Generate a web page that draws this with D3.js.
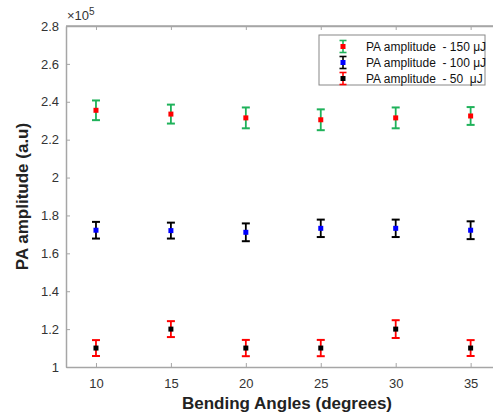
<!DOCTYPE html>
<html>
<head>
<meta charset="utf-8">
<script src="https://cdnjs.cloudflare.com/ajax/libs/d3/7.8.5/d3.min.js"></script>
<style>
  body { margin: 0; background: #fff; }
  svg { font-family: "Liberation Sans", Arial, sans-serif; display: block; }
</style>
</head>
<body>
<script>
// bending angles (degrees)
var angles = [10, 15, 20, 25, 30, 35];
// PA amplitude in units of 1e5, with error half-widths
var amp150 = [2.355, 2.335, 2.315, 2.305, 2.315, 2.325];
var err150 = [0.052, 0.050, 0.055, 0.055, 0.055, 0.047];
var amp100 = [1.722, 1.720, 1.711, 1.732, 1.732, 1.722];
var err100 = [0.044, 0.042, 0.047, 0.046, 0.046, 0.047];
var amp50 = [1.100, 1.200, 1.100, 1.100, 1.200, 1.100];
var err50 = [0.042, 0.042, 0.043, 0.043, 0.047, 0.042];
var yTicks = [1, 1.2, 1.4, 1.6, 1.8, 2, 2.2, 2.4, 2.6, 2.8];
var legendLabels = ["PA amplitude  - 150 \u03bcJ", "PA amplitude  - 100 \u03bcJ", "PA amplitude  - 50  \u03bcJ"];

var W = 493, H = 414;
var margin = {top: 26, right: 0, bottom: 47, left: 66}
  , width = 434.6
  , height = H - margin.top - margin.bottom;

var xScale = d3.scaleLinear().domain([8, 37]).range([0, width]);
var yScale = d3.scaleLinear().domain([1, 2.8]).range([height, 0]);

var series = [
  {amp: amp150, err: err150, bar: "#1fb25a", marker: "#ff0000"},
  {amp: amp100, err: err100, bar: "#000000", marker: "#0000ff"},
  {amp: amp50, err: err50, bar: "#ff0000", marker: "#000000"}
];

var svg = d3.select("body").append("svg")
    .attr("width", W)
    .attr("height", H);

var g = svg.append("g")
    .attr("transform", "translate(" + margin.left + "," + margin.top + ")");

var axisColor = "#a6a6a6";

// box lines
g.append("line").attr("x1", 0).attr("x2", width).attr("y1", 0).attr("y2", 0)
  .attr("stroke", axisColor).attr("stroke-width", 1.5);
g.append("line").attr("x1", width).attr("x2", width).attr("y1", 0).attr("y2", height)
  .attr("stroke", axisColor).attr("stroke-width", 1.5);

// axes with inward ticks
var xAxis = g.append("g")
    .attr("transform", "translate(0," + height + ")")
    .call(d3.axisBottom(xScale).tickValues(angles).tickSizeInner(-4).tickSizeOuter(0).tickPadding(12));
var xTop = g.append("g")
    .call(d3.axisTop(xScale).tickValues(angles).tickSizeInner(-4).tickSizeOuter(0).tickFormat(""));
var yAxis = g.append("g")
    .call(d3.axisLeft(yScale).tickValues(yTicks).tickSizeInner(-4).tickSizeOuter(0).tickPadding(7)
      .tickFormat(function(d){ return d3.format("~g")(d); }));

[xAxis, xTop, yAxis].forEach(function(a){
  a.select(".domain").attr("stroke", axisColor).attr("stroke-width", 1.5);
  a.selectAll(".tick line").attr("stroke", axisColor);
  a.selectAll("text").attr("fill", "#333").style("font-size", "13px")
    .style("font-family", "Liberation Sans, Arial, sans-serif");
});

// x10^5 multiplier
var mult = g.append("text").attr("x", 1).attr("y", -6)
  .attr("fill", "#333").style("font-size", "13px");
mult.append("tspan").text("\u00d710");
mult.append("tspan").attr("dy", -5).style("font-size", "10px").text("5");

// error bars + markers
series.forEach(function(s){
  var grp = g.append("g");
  angles.forEach(function(a, i){
    var x = xScale(a), y0 = yScale(s.amp[i] - s.err[i]), y1 = yScale(s.amp[i] + s.err[i]);
    grp.append("line").attr("x1", x).attr("x2", x).attr("y1", y0).attr("y2", y1)
      .attr("stroke", s.bar).attr("stroke-width", 1.8);
    grp.append("line").attr("x1", x - 4).attr("x2", x + 4).attr("y1", y0).attr("y2", y0)
      .attr("stroke", s.bar).attr("stroke-width", 2);
    grp.append("line").attr("x1", x - 4).attr("x2", x + 4).attr("y1", y1).attr("y2", y1)
      .attr("stroke", s.bar).attr("stroke-width", 2);
    grp.append("rect").attr("x", x - 2.5).attr("y", yScale(s.amp[i]) - 2.5)
      .attr("width", 5).attr("height", 5).attr("fill", s.marker);
  });
});

// legend
var lg = svg.append("g").attr("transform", "translate(319,35)");
lg.append("rect").attr("x", 0).attr("y", 0).attr("width", 166).attr("height", 50)
  .attr("fill", "#fff").attr("stroke", "#888").attr("stroke-width", 1);
series.forEach(function(s, i){
  var cy = 11.5 + i * 16, cx = 24;
  lg.append("line").attr("x1", cx).attr("x2", cx).attr("y1", cy - 6).attr("y2", cy + 6)
    .attr("stroke", s.bar).attr("stroke-width", 1.6);
  lg.append("line").attr("x1", cx - 3.5).attr("x2", cx + 3.5).attr("y1", cy - 6).attr("y2", cy - 6)
    .attr("stroke", s.bar).attr("stroke-width", 1.6);
  lg.append("line").attr("x1", cx - 3.5).attr("x2", cx + 3.5).attr("y1", cy + 6).attr("y2", cy + 6)
    .attr("stroke", s.bar).attr("stroke-width", 1.6);
  lg.append("rect").attr("x", cx - 2.5).attr("y", cy - 2.5).attr("width", 5).attr("height", 5)
    .attr("fill", s.marker);
  lg.append("text").attr("x", 47).attr("y", cy + 4).attr("fill", "#111")
    .style("font-size", "12px").style("white-space", "pre").text(legendLabels[i]);
});

// axis titles
svg.append("text")
  .attr("transform", "translate(287," + 409 + ")")
  .style("text-anchor", "middle").style("font-weight", "bold").style("font-size", "17px")
  .attr("fill", "#222")
  .text("Bending Angles (degrees)");

svg.append("text")
  .attr("transform", "translate(28," + (margin.top + height / 2) + ") rotate(-90)")
  .style("text-anchor", "middle").style("font-weight", "bold").style("font-size", "17px")
  .attr("fill", "#222")
  .text("PA amplitude (a.u)");
</script>
</body>
</html>
